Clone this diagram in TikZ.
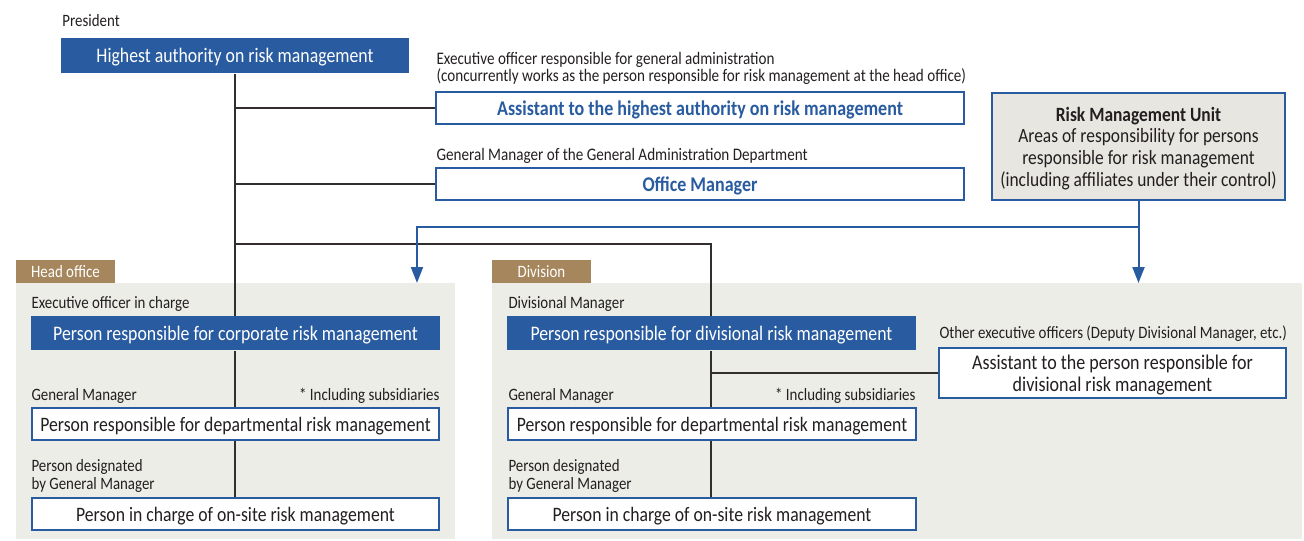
\documentclass[tikz,border=0pt]{standalone}
\usepackage{fontspec}
\setmainfont{Carlito}[FakeStretch=0.86]
\usetikzlibrary{arrows.meta}

\definecolor{riskblue}{RGB}{41,91,160}
\definecolor{tabbrown}{RGB}{166,134,92}
\definecolor{panelgray}{RGB}{237,237,232}
\definecolor{unitgray}{RGB}{231,230,225}
\definecolor{linegray}{RGB}{50,46,46}
\definecolor{inkgray}{RGB}{35,31,32}

\tikzset{every picture/.style={line width=0.75pt}}
\tikzset{
  lead/.style={fill=riskblue, text=white, inner sep=0pt, text depth=0pt, font=\fontsize{15.5}{18}\selectfont},
  framed/.style={draw=riskblue, fill=white, line width=1.2pt, inner sep=0pt, text depth=0pt, text=inkgray, font=\fontsize{15.4}{18}\selectfont},
  framedblue/.style={framed, text=riskblue, font=\fontsize{15.7}{18}\selectfont\bfseries},
  caption/.style={inner sep=0pt, text=inkgray, font=\fontsize{13}{14}\selectfont},
  captiontop/.style={caption, font=\fontsize{13.2}{14}\selectfont},
  tabtext/.style={inner sep=0pt, text=white, font=\fontsize{13}{14}\selectfont},
  link/.style={draw=linegray, line width=0.9pt},
  feed/.style={draw=riskblue, line width=1.5pt},
}

\begin{document}
\begin{tikzpicture}[x=0.75pt,y=0.75pt,yscale=-1,xscale=1]
	\useasboundingbox (0,0) rectangle (1304,540);

	%Shape: Rectangle (panels and tabs)
	\fill [panelgray] (16,283) rectangle (455,539) ;
	\fill [panelgray] (492,283) rectangle (1302,539) ;
	\fill [tabbrown] (16,260) rectangle (115,283) ;
	\fill [tabbrown] (492,260) rectangle (591,283) ;
	\node [tabtext] (hoTab) at (65.5,272) {Head office};
	\node [tabtext] (divTab) at (541.5,272) {Division};

	% Top boxes
	\node [lead, minimum width=261pt, minimum height=26.25pt] (hi) at (235,55.5) {Highest authority on risk management};
	\node [framedblue, minimum width=396pt, minimum height=24pt] (asst) at (700,108) {Assistant to the highest authority on risk management};
	\node [framedblue, minimum width=396pt, minimum height=24pt] (office) at (700,184) {Office Manager};
	\node [framed, fill=unitgray, minimum width=219.75pt, minimum height=80.25pt, align=center, font=\fontsize{15.2}{16.3}\selectfont] (rmu) at (1138.5,146.5) {\textbf{Risk Management Unit}\\Areas of responsibility for persons\\responsible for risk management\\(including affiliates under their control)};

	% Head office boxes
	\node [lead, minimum width=306.75pt, minimum height=25.5pt] (hoCorp) at (235.5,333) {Person responsible for corporate risk management};
	\node [framed, minimum width=305.25pt, minimum height=24pt] (hoDept) at (235.5,424) {Person responsible for departmental risk management};
	\node [framed, minimum width=305.25pt, minimum height=24pt] (hoSite) at (235.5,514) {Person in charge of on-site risk management};

	% Division boxes
	\node [lead, minimum width=306.75pt, minimum height=25.5pt] (divCorp) at (711.5,333) {Person responsible for divisional risk management};
	\node [framed, minimum width=306pt, minimum height=24pt] (divDept) at (712,424) {Person responsible for departmental risk management};
	\node [framed, minimum width=306pt, minimum height=24pt] (divSite) at (712,514) {Person in charge of on-site risk management};
	\node [framed, minimum width=260.25pt, minimum height=37.5pt, align=center, font=\fontsize{15.7}{16.5}\selectfont] (divAsst) at (1112.5,373) {Assistant to the person responsible for\\divisional risk management};

	% Text Node
	\node [caption, anchor=base west] (presLbl) at (62,26.5) {President};
	\node [captiontop, anchor=base west] (asstLbl) at (436,64) {Executive officer responsible for general administration};
	\node [captiontop, anchor=base west] (asstLblB) at (436,81) {(concurrently works as the person responsible for risk management at the head office)};
	\node [captiontop, anchor=base west] (officeLbl) at (436,160) {General Manager of the General Administration Department};
	\node [caption, anchor=base west] (hoCorpLbl) at (31,308.5) {Executive officer in charge};
	\node [caption, anchor=base west] (hoDeptLbl) at (31,400) {General Manager};
	\node [caption, anchor=base east] (hoNote) at (440,400) {* Including subsidiaries};
	\node [caption, anchor=base west] (hoSiteLbl) at (31,471.5) {Person designated};
	\node [caption, anchor=base west] (hoSiteLblB) at (31,489) {by General Manager};
	\node [caption, anchor=base west] (divCorpLbl) at (508,308.5) {Divisional Manager};
	\node [caption, anchor=base west] (divDeptLbl) at (508,400) {General Manager};
	\node [caption, anchor=base east] (divNote) at (916,400) {* Including subsidiaries};
	\node [caption, anchor=base west] (divSiteLbl) at (508,471.5) {Person designated};
	\node [caption, anchor=base west] (divSiteLblB) at (508,489) {by General Manager};
	\node [caption, anchor=base west] (divAsstLbl) at (939,338) {Other executive officers (Deputy Divisional Manager, etc.)};

	%Straight Lines
	\coordinate (split) at (711,244) ;
	\draw [link] (hi.south) -- (hi.south |- hoCorp.north) ;
	\draw [link] (hi.south |- hoCorp.south) -- (hi.south |- hoDept.north) ;
	\draw [link] (hi.south |- hoDept.south) -- (hi.south |- hoSite.north) ;
	\draw [link] (hi.south |- asst.west) -- (asst.west) ;
	\draw [link] (hi.south |- office.west) -- (office.west) ;
	\draw [link] (hi.south |- split) -- (split) -- (split |- divCorp.north) ;
	\draw [link] (split |- divCorp.south) -- (split |- divDept.north) ;
	\draw [link] (split |- divDept.south) -- (split |- divSite.north) ;
	\draw [link] (split |- divAsst.west) -- (divAsst.west) ;

	%Arrows from the unit
	\coordinate (hoTop) at (417,283) ;
	\coordinate (divTop) at (rmu.south |- hoTop) ;
	\draw [feed, -{Triangle[width=9pt,length=12pt]}] (rmu.south) -- (divTop) ;
	\draw [feed, -{Triangle[width=9pt,length=12pt]}] (rmu.south) ++(0,26) -| (hoTop) ;

\end{tikzpicture}
\end{document}
